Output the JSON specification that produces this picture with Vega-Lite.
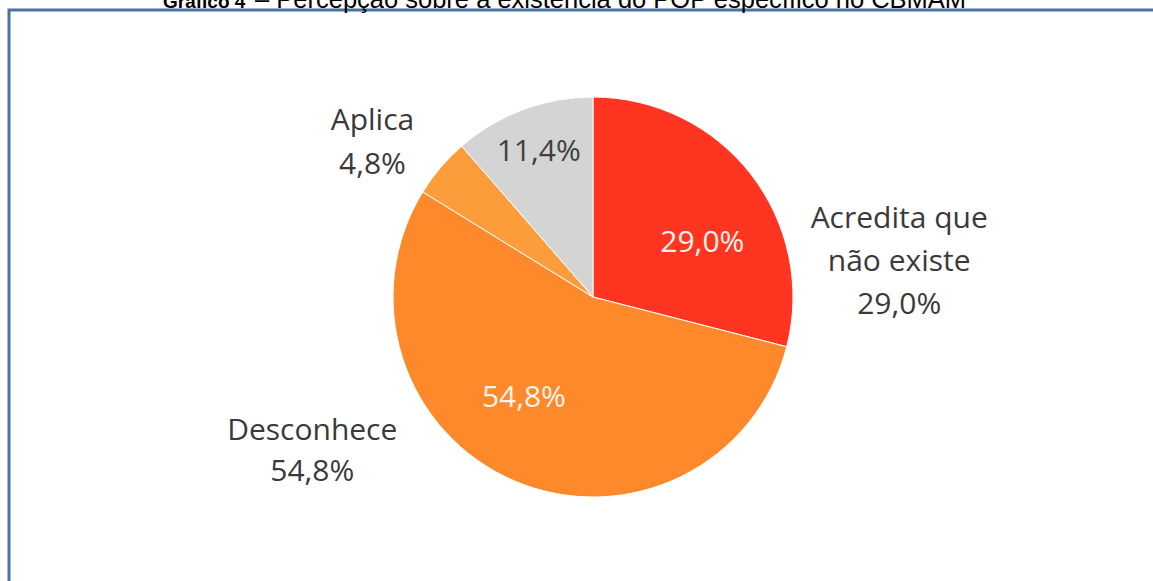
{
  "$schema": "https://vega.github.io/schema/vega-lite/v6.json",
  "width": 1168,
  "height": 574,
  "autosize": {"type": "none"},
  "padding": {"left": 9, "top": 10, "right": 0, "bottom": 0},
  "background": "#ffffff",
  "view": {"stroke": "#4a72a2", "strokeWidth": 3, "fill": null},
  "config": {
    "view": {"stroke": "#4a72a2", "strokeWidth": 3},
    "text": {"lineBreak": "\n", "font": "Open Sans"}
  },
  "datasets": {
    "fatias": [
      {"cat": "Acredita que não existe", "ordem": 1, "valor": 29.0, "rotulo": "Acredita que\nnão existe\n29,0%", "pct": "29,0%"},
      {"cat": "Desconhece", "ordem": 2, "valor": 54.8, "rotulo": "Desconhece\n54,8%", "pct": "54,8%"},
      {"cat": "Aplica", "ordem": 3, "valor": 4.8, "rotulo": "Aplica\n4,8%", "pct": "4,8%"},
      {"cat": "Outros", "ordem": 4, "valor": 11.4, "rotulo": "", "pct": "11,4%"}
    ],
    "titulo": [
      {"parte1": "Gráfico 4", "parte2": "– Percepção sobre a existência do POP específico no CBMAM"}
    ]
  },
  "layer": [
    {
      "data": {"name": "fatias"},
      "encoding": {
        "theta": {"field": "valor", "type": "quantitative", "stack": true},
        "order": {"field": "ordem", "type": "quantitative"}
      },
      "layer": [
        {
          "mark": {"type": "arc", "radius": 200, "stroke": "#ffffff", "strokeWidth": 1},
          "encoding": {
            "color": {
              "field": "cat",
              "type": "nominal",
              "scale": {
                "domain": ["Acredita que não existe", "Desconhece", "Aplica", "Outros"],
                "range": ["#ff3522", "#fd892b", "#fd9c3a", "#d4d4d4"]
              },
              "legend": null
            }
          }
        },
        {
          "mark": {"type": "text", "radius": 122, "thetaOffset": 0.2, "fontSize": 30, "color": "#fff3ea", "align": "center", "baseline": "middle"},
          "encoding": {
            "detail": {"field": "cat"},
            "text": {"condition": {"test": "datum.cat === 'Acredita que não existe' || datum.cat === 'Desconhece'", "field": "pct"}, "value": ""}
          }
        },
        {
          "mark": {"type": "text", "radius": 155, "fontSize": 30, "color": "#404040", "align": "center", "baseline": "middle"},
          "encoding": {
            "detail": {"field": "cat"},
            "text": {"condition": {"test": "datum.cat === 'Outros'", "field": "pct"}, "value": ""}
          }
        },
        {
          "mark": {"type": "text", "radius": 316, "thetaOffset": 0.41, "fontSize": 30, "lineHeight": 43, "color": "#3a3a3a", "align": "center", "baseline": "middle"},
          "encoding": {
            "detail": {"field": "cat"},
            "text": {"condition": {"test": "datum.cat === 'Acredita que não existe'", "field": "rotulo"}, "value": ""}
          }
        },
        {
          "mark": {"type": "text", "radius": 311, "thetaOffset": 0.724, "fontSize": 30, "lineHeight": 41, "color": "#3a3a3a", "align": "center", "baseline": "middle"},
          "encoding": {
            "detail": {"field": "cat"},
            "text": {"condition": {"test": "datum.cat === 'Desconhece'", "field": "rotulo"}, "value": ""}
          }
        },
        {
          "mark": {"type": "text", "radius": 282, "thetaOffset": -0.031, "fontSize": 30, "lineHeight": 44, "color": "#3a3a3a", "align": "center", "baseline": "middle"},
          "encoding": {
            "detail": {"field": "cat"},
            "text": {"condition": {"test": "datum.cat === 'Aplica'", "field": "rotulo"}, "value": ""}
          }
        }
      ]
    },
    {
      "data": {"name": "titulo"},
      "layer": [
        {
          "mark": {"type": "text", "radius": 289.5, "dx": -430, "font": "Liberation Sans", "fontSize": 19, "fontWeight": "bold", "color": "#000000", "align": "left", "baseline": "alphabetic"},
          "encoding": {"theta": {"value": 0}, "text": {"field": "parte1"}}
        },
        {
          "mark": {"type": "text", "radius": 289.5, "dx": -338, "font": "Liberation Sans", "fontSize": 25.5, "color": "#000000", "align": "left", "baseline": "alphabetic"},
          "encoding": {"theta": {"value": 0}, "text": {"field": "parte2"}}
        }
      ]
    }
  ]
}
